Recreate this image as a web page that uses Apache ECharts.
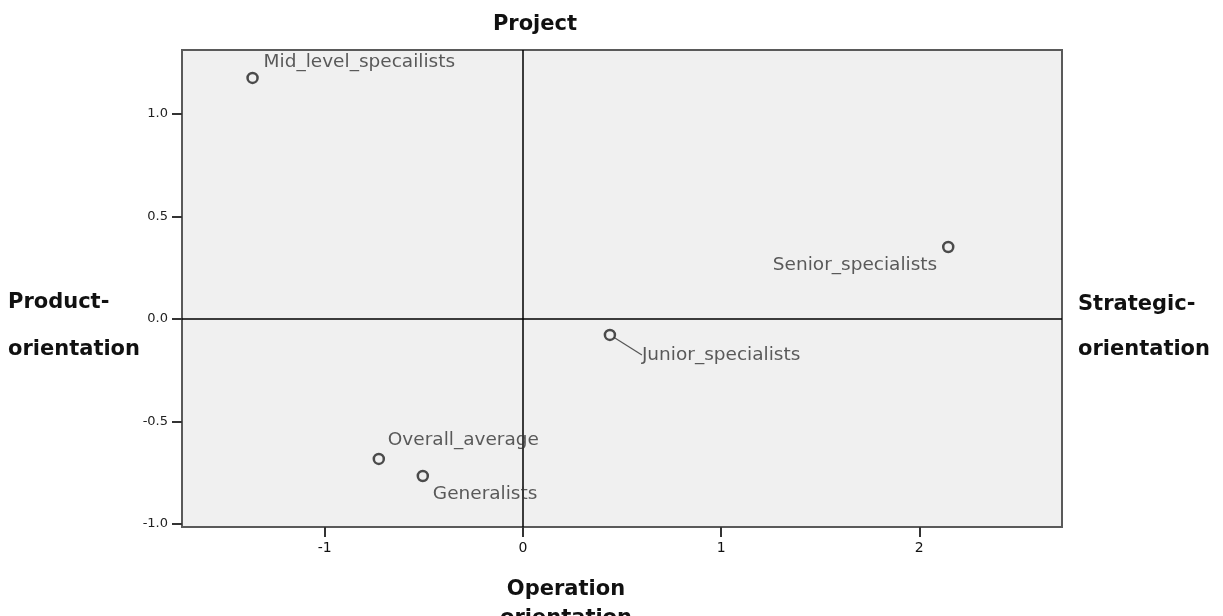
<!DOCTYPE html>
<html>
<head>
<meta charset="utf-8">
<script src="https://cdn.jsdelivr.net/npm/echarts@6/dist/echarts.min.js"></script>
<style>html,body{margin:0;padding:0;background:#fff;}#c{width:1223px;height:616px;}</style>
</head>
<body>
<div id="c"></div>
<script>
const names = ['Mid_level_specailists', 'Senior_specialists', 'Junior_specialists', 'Overall_average', 'Generalists'];
const xValues = [-1.364, 2.146, 0.439, -0.727, -0.505];
const yValues = [1.176, 0.351, -0.078, -0.683, -0.766];
const xTicks = [-1, 0, 1, 2];
const yTicks = [-1.0, -0.5, 0.0, 0.5, 1.0];
const labelShifts = [[11, -16], [-11, 18], [32, 20], [9, -19], [10, 18]];
const labelAligns = ['left', 'right', 'left', 'left', 'left'];
const leaderShown = [false, false, true, false, false];

const chart = echarts.init(document.getElementById('c'));
const data = names.map((n, i) => ({
  name: n,
  value: [xValues[i], yValues[i]],
  label: { align: labelAligns[i] },
  labelLine: { show: leaderShown[i] }
}));

const titleStyle = { fontFamily: 'DejaVu Sans', fontWeight: 'bold', fontSize: 21, color: '#111' };

chart.setOption({
  animation: false,
  backgroundColor: '#ffffff',
  grid: {
    left: 182, right: 161, top: 50, bottom: 89,
    show: true, backgroundColor: '#f0f0f0', borderColor: '#5a5a5a', borderWidth: 2
  },
  title: [
    { text: 'Project', left: 530, top: 9, textAlign: 'center',
      textStyle: Object.assign({}, titleStyle) },
    { text: 'Product-', left: 3, top: 287, textStyle: Object.assign({}, titleStyle) },
    { text: 'orientation', left: 3, top: 334, textStyle: Object.assign({}, titleStyle) },
    { text: 'Strategic-', left: 1073, top: 289, textStyle: Object.assign({}, titleStyle) },
    { text: 'orientation', left: 1073, top: 334, textStyle: Object.assign({}, titleStyle) },
    { text: 'Operation\norientation', left: 561, top: 570, textAlign: 'center',
      textStyle: Object.assign({}, titleStyle, { lineHeight: 29 }) }
  ],
  xAxis: {
    type: 'value', min: -1.72, max: 2.72,
    splitLine: { show: false },
    axisLine: { show: false, onZero: false },
    axisTick: { show: true, length: 10, customValues: xTicks, lineStyle: { color: '#333', width: 2 } },
    axisLabel: { customValues: xTicks, margin: 14, fontFamily: 'DejaVu Sans', fontSize: 14, color: '#111',
      formatter: v => String(Math.round(v)) }
  },
  yAxis: {
    type: 'value', min: -1.015, max: 1.312,
    splitLine: { show: false },
    axisLine: { show: false, onZero: false },
    axisTick: { show: true, length: 10, customValues: yTicks, lineStyle: { color: '#333', width: 2 } },
    axisLabel: { customValues: yTicks, margin: 14, fontFamily: 'DejaVu Sans', fontSize: 13, color: '#222',
      formatter: v => v.toFixed(1) }
  },
  series: [{
    type: 'scatter',
    symbol: 'circle',
    symbolSize: 10,
    itemStyle: { color: 'rgba(0,0,0,0)', borderColor: '#222', borderWidth: 2.5 },
    label: {
      show: true, formatter: p => p.name, position: 'inside',
      fontFamily: 'DejaVu Sans', fontSize: 18.5, color: '#333'
    },
    labelLine: { lineStyle: { color: '#555', width: 1.2 } },
    labelLayout: p => {
      const s = labelShifts[p.dataIndex];
      return { dx: s[0], dy: s[1] };
    },
    data: data,
    markLine: {
      silent: true, symbol: 'none', label: { show: false },
      lineStyle: { color: '#000', width: 1.5, type: 'solid' },
      data: [{ xAxis: 0 }, { yAxis: 0 }]
    },
    z: 5
  }]
});
</script>
</body>
</html>
